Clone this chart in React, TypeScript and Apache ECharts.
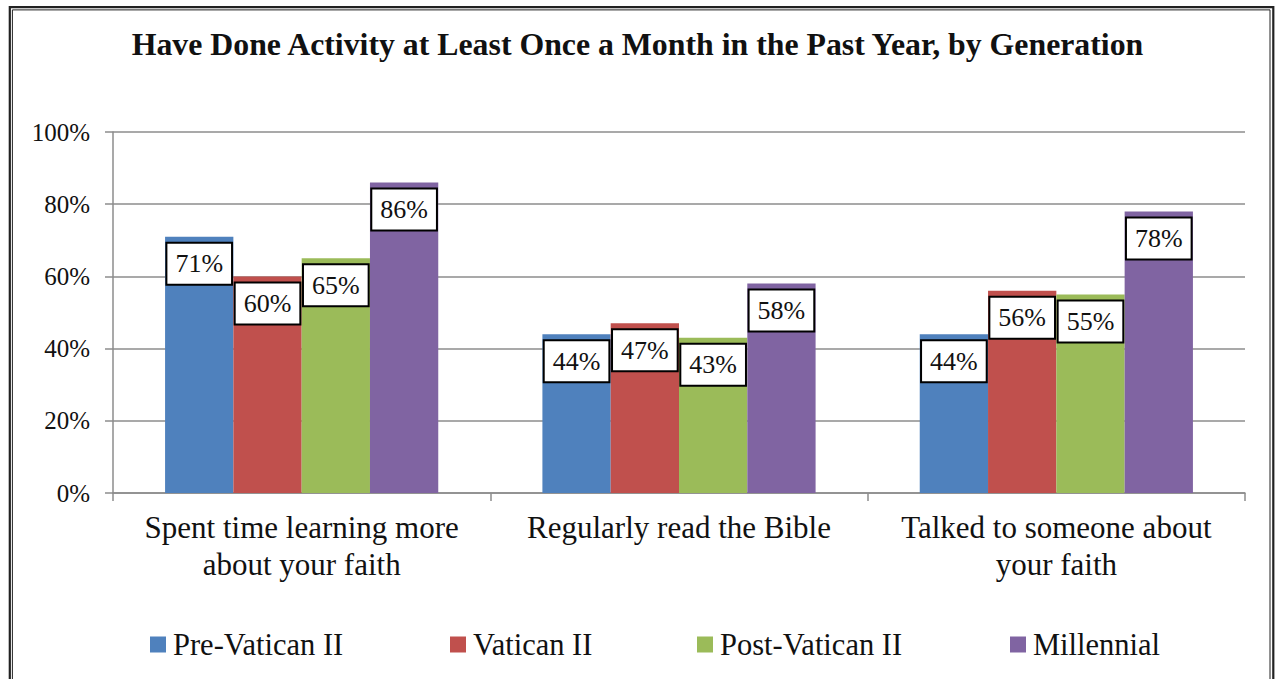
import React, { useEffect, useRef } from "react";
import * as echarts from "echarts";

const categories = [
  "Spent time learning more\nabout your faith",
  "Regularly read the Bible",
  "Talked to someone about\nyour faith",
];
const seriesNames = ["Pre-Vatican II", "Vatican II", "Post-Vatican II", "Millennial"];
const preVatican = [71, 44, 44];
const vatican = [60, 47, 56];
const postVatican = [65, 43, 55];
const millennial = [86, 58, 78];
const colors = ["#4F81BD", "#C0504D", "#9BBB59", "#8064A2"];
const legendLefts = [150, 450, 697, 1010];

const FONT = "'Liberation Serif', 'DejaVu Serif', 'Times New Roman', serif";

export default function App() {
  const ref = useRef<HTMLDivElement>(null);
  useEffect(() => {
    if (!ref.current) return;
    const chart = echarts.init(ref.current, undefined, { renderer: "svg" });
    const values = [preVatican, vatican, postVatican, millennial];
    chart.setOption({
      animation: false,
      backgroundColor: "#fff",
      title: {
        text: "Have Done Activity at Least Once a Month in the Past Year, by Generation",
        left: "center",
        top: 23,
        textStyle: { fontFamily: FONT, fontSize: 31.8, fontWeight: "bold", color: "#111" },
      },
      legend: seriesNames.map((n, i) => ({
        data: [n],
        left: legendLefts[i],
        top: 624,
        padding: [5, 0, 5, 0],
        icon: "rect",
        itemWidth: 16,
        itemHeight: 16,
        itemGap: 0,
        textStyle: { fontFamily: FONT, fontSize: 30.5, color: "#111", padding: [0, 0, 0, 2] },
      })),
      grid: { left: 113, right: 30, top: 132, bottom: 186, containLabel: false },
      xAxis: {
        type: "category",
        data: categories,
        axisLine: { lineStyle: { color: "#8c8c8c", width: 1.5 } },
        axisTick: { show: true, length: 8, lineStyle: { color: "#8c8c8c", width: 1.5 } },
        axisLabel: {
          fontFamily: FONT,
          fontSize: 31,
          color: "#111",
          lineHeight: 37,
          margin: 16,
          interval: 0,
        },
      },
      yAxis: {
        type: "value",
        min: 0,
        max: 100,
        interval: 20,
        axisLine: { show: true, lineStyle: { color: "#8c8c8c", width: 1.5 } },
        axisTick: { show: true, length: 8, lineStyle: { color: "#8c8c8c", width: 1.5 } },
        splitLine: { lineStyle: { color: "#8c8c8c", width: 1.5 } },
        axisLabel: {
          fontFamily: FONT,
          fontSize: 25,
          color: "#111",
          margin: 23,
          formatter: "{value}%",
        },
      },
      series: seriesNames.map((n, i) => ({
        name: n,
        type: "bar",
        data: values[i],
        barGap: "0%",
        barCategoryGap: "27.6%",
        itemStyle: { color: colors[i] },
        label: {
          show: true,
          position: "insideTop",
          distance: 7,
          formatter: "{c}%",
          fontFamily: FONT,
          fontSize: 26,
          lineHeight: 28,
          color: "#111",
          backgroundColor: "#fff",
          borderColor: "#000",
          borderWidth: 2,
          padding: [6, 8],
        },
      })),
      graphic: [
        {
          type: "rect",
          shape: { x: 9.8, y: 7.2, width: 1263.5, height: 700 },
          style: { fill: "none", stroke: "#222", lineWidth: 2.2 },
          silent: true,
        },
        {
          type: "rect",
          shape: { x: 12.4, y: 9.9, width: 1257.6, height: 700 },
          style: { fill: "none", stroke: "#222", lineWidth: 1 },
          silent: true,
        },
      ],
    });
    return () => chart.dispose();
  }, []);
  return (
    <div
      ref={ref}
      style={{ position: "absolute", left: 0, top: 0, width: 1275, height: 679 }}
    />
  );
}
